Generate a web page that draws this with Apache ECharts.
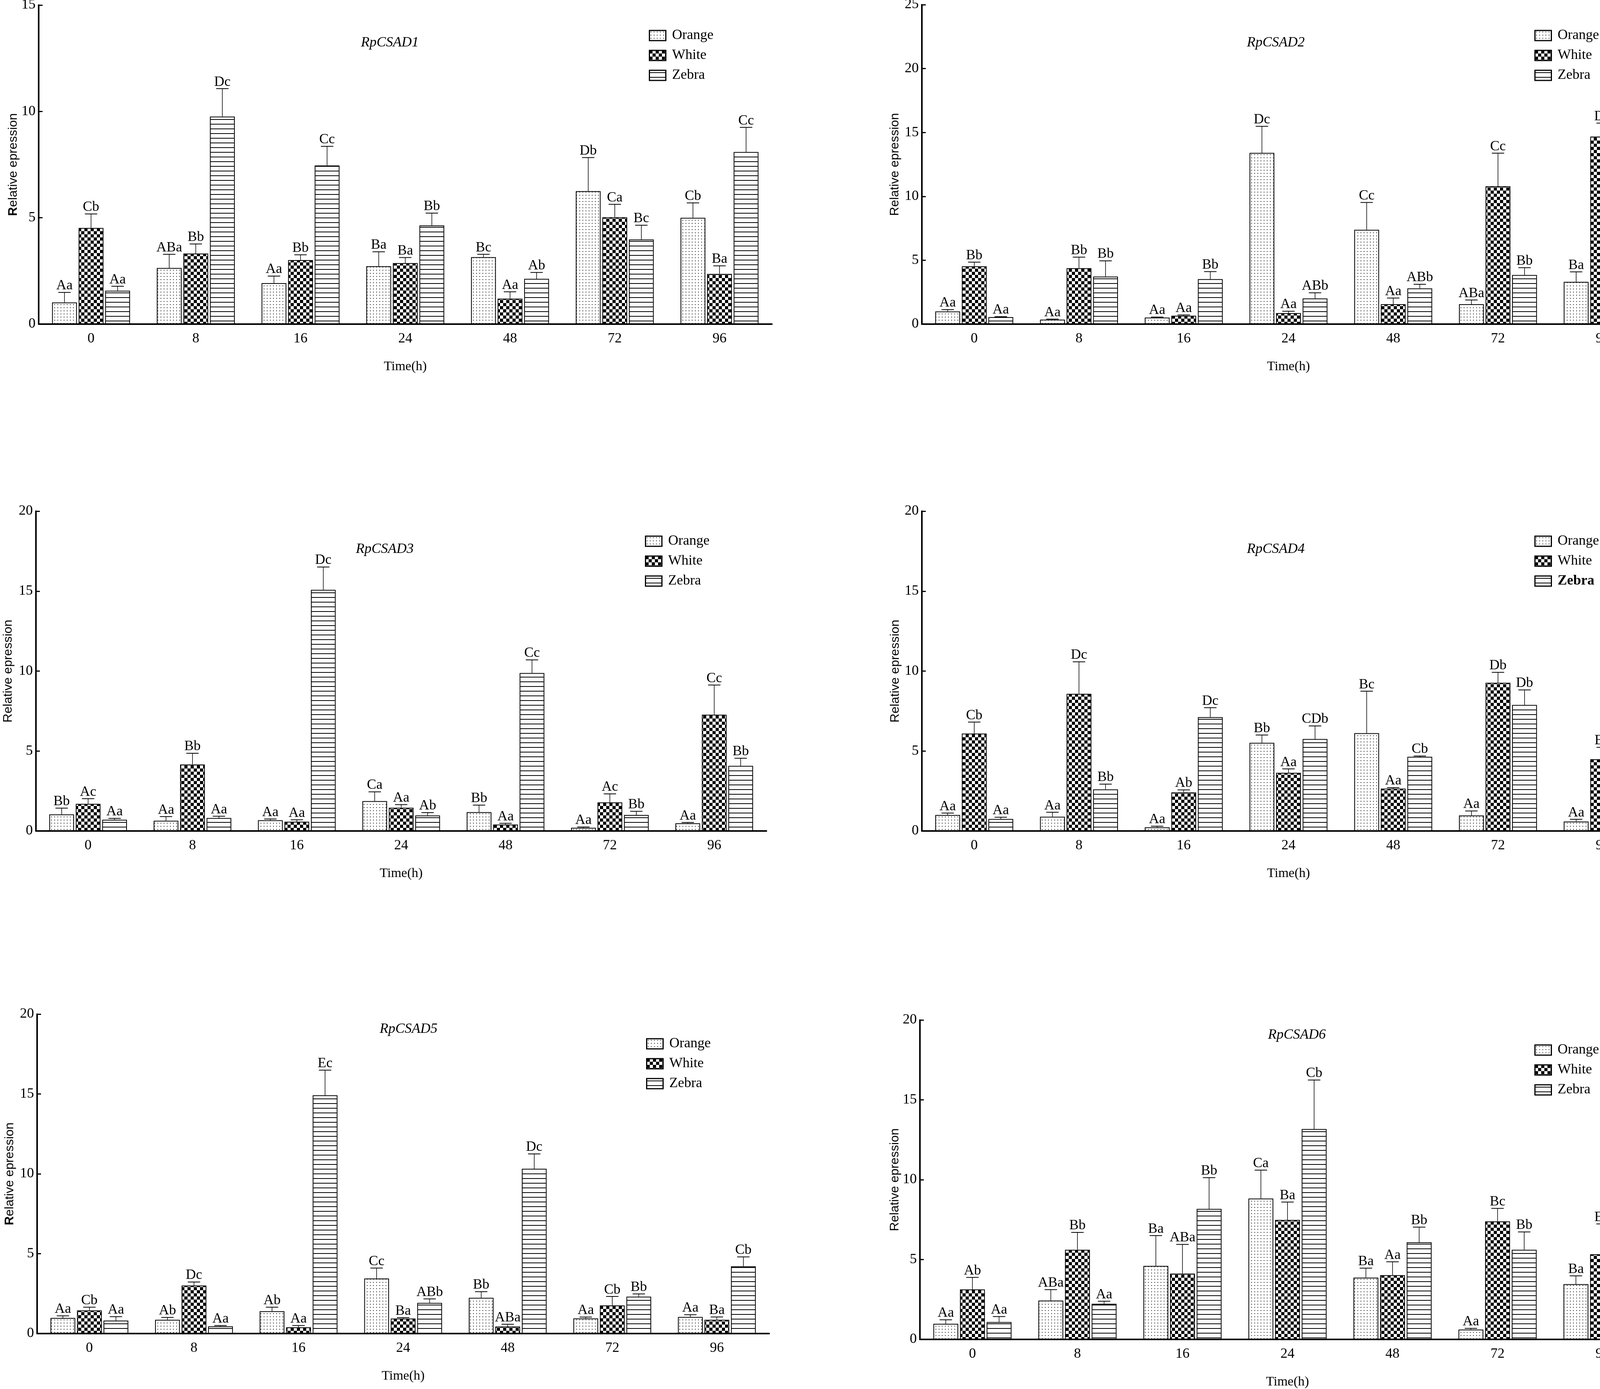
<!DOCTYPE html>
<html><head><meta charset="utf-8">
<script src="https://cdn.jsdelivr.net/npm/echarts@6/dist/echarts.min.js"></script>
<style>html,body{margin:0;padding:0;background:#fff}#c{width:4238px;height:3557px}</style>
</head><body><div id="c"></div>
<script>
const categories = ['0','8','16','24','48','72','96'];
const seriesNames = ['Orange','White','Zebra'];
const genes = ['RpCSAD1','RpCSAD2','RpCSAD3','RpCSAD4','RpCSAD5','RpCSAD6'];
const yMax = [15, 25, 20, 20, 20, 20];
const yInterval = 5;

// Panel 1 RpCSAD1
const orange1 = [1.02, 2.64, 1.93, 2.72, 3.15, 6.25, 5.00];
const orange1Err = [1.49, 3.28, 2.26, 3.40, 3.28, 7.83, 5.70];
const white1 = [4.52, 3.32, 3.01, 2.87, 1.20, 5.02, 2.36];
const white1Err = [5.18, 3.77, 3.26, 3.13, 1.52, 5.63, 2.74];
const zebra1 = [1.57, 9.76, 7.46, 4.64, 2.13, 3.98, 8.09];
const zebra1Err = [1.78, 11.07, 8.36, 5.22, 2.43, 4.65, 9.25];
const orange1Lbl = ['Aa','ABa','Aa','Ba','Bc','Db','Cb'];
const white1Lbl = ['Cb','Bb','Bb','Ba','Aa','Ca','Ba'];
const zebra1Lbl = ['Aa','Dc','Cc','Bb','Ab','Bc','Cc'];

// Panel 2 RpCSAD2
const orange2 = [0.99, 0.35, 0.51, 13.40, 7.38, 1.56, 3.31];
const orange2Err = [1.13, 0.39, 0.55, 15.48, 9.52, 1.89, 4.09];
const white2 = [4.52, 4.38, 0.66, 0.86, 1.56, 10.79, 14.68];
const white2Err = [4.85, 5.24, 0.72, 1.01, 2.04, 13.38, 15.73];
const zebra2 = [0.55, 3.72, 3.52, 2.01, 2.80, 3.84, 16.24];
const zebra2Err = [0.58, 4.95, 4.11, 2.45, 3.12, 4.42, 20.23];
const orange2Lbl = ['Aa','Aa','Aa','Dc','Cc','ABa','Ba'];
const white2Lbl = ['Bb','Bb','Aa','Aa','Aa','Cc','Db'];
const zebra2Lbl = ['Aa','Bb','Bb','ABb','ABb','Bb','Cb'];

// Panel 3 RpCSAD3
const orange3 = [1.04, 0.64, 0.67, 1.87, 1.18, 0.20, 0.48];
const orange3Err = [1.43, 0.90, 0.75, 2.45, 1.62, 0.25, 0.53];
const white3 = [1.70, 4.16, 0.58, 1.45, 0.40, 1.79, 7.27];
const white3Err = [2.02, 4.86, 0.70, 1.65, 0.48, 2.32, 9.13];
const zebra3 = [0.70, 0.81, 15.08, 0.97, 9.88, 1.00, 4.07];
const zebra3Err = [0.79, 0.92, 16.51, 1.15, 10.70, 1.23, 4.55];
const orange3Lbl = ['Bb','Aa','Aa','Ca','Bb','Aa','Aa'];
const white3Lbl = ['Ac','Bb','Aa','Aa','Aa','Ac','Cc'];
const zebra3Lbl = ['Aa','Aa','Dc','Ab','Cc','Bb','Bb'];

// Panel 4 RpCSAD4
const orange4 = [1.00, 0.89, 0.23, 5.51, 6.12, 0.97, 0.59];
const orange4Err = [1.12, 1.17, 0.30, 6.00, 8.74, 1.25, 0.73];
const white4 = [6.09, 8.58, 2.41, 3.64, 2.65, 9.27, 4.49];
const white4Err = [6.81, 10.58, 2.57, 3.88, 2.71, 9.92, 5.23];
const zebra4 = [0.75, 2.60, 7.12, 5.75, 4.64, 7.88, 15.08];
const zebra4Err = [0.86, 2.93, 7.71, 6.57, 4.69, 8.82, 17.34];
const orange4Lbl = ['Aa','Aa','Aa','Bb','Bc','Aa','Aa'];
const white4Lbl = ['Cb','Dc','Ab','Aa','Aa','Db','Bb'];
const zebra4Lbl = ['Aa','Bb','Dc','CDb','Cb','Db','Ec'];

// Panel 5 RpCSAD5
const orange5 = [0.98, 0.86, 1.40, 3.45, 2.24, 0.95, 1.04];
const orange5Err = [1.11, 1.01, 1.65, 4.10, 2.62, 1.03, 1.18];
const white5 = [1.45, 3.01, 0.39, 0.94, 0.44, 1.76, 0.86];
const white5Err = [1.65, 3.23, 0.50, 1.00, 0.58, 2.32, 1.04];
const zebra5 = [0.81, 0.45, 14.92, 1.92, 10.32, 2.31, 4.21];
const zebra5Err = [1.06, 0.50, 16.49, 2.17, 11.25, 2.48, 4.80];
const orange5Lbl = ['Aa','Ab','Ab','Cc','Bb','Aa','Aa'];
const white5Lbl = ['Cb','Dc','Aa','Ba','ABa','Cb','Ba'];
const zebra5Lbl = ['Aa','Aa','Ec','ABb','Dc','Bb','Cb'];

// Panel 6 RpCSAD6
const orange6 = [0.98, 2.43, 4.60, 8.82, 3.87, 0.62, 3.46];
const orange6Err = [1.23, 3.12, 6.50, 10.60, 4.46, 0.69, 3.98];
const white6 = [3.13, 5.61, 4.12, 7.48, 4.02, 7.39, 5.33];
const white6Err = [3.88, 6.70, 5.95, 8.60, 4.86, 8.20, 7.23];
const zebra6 = [1.09, 2.23, 8.17, 13.17, 6.08, 5.61, 5.38];
const zebra6Err = [1.43, 2.39, 10.13, 16.24, 7.03, 6.73, 7.73];
const orange6Lbl = ['Aa','ABa','Ba','Ca','Ba','Aa','Ba'];
const white6Lbl = ['Ab','Bb','ABa','Ba','Aa','Bc','Bb'];
const zebra6Lbl = ['Aa','Aa','Bb','Cb','Bb','Bb','Bb'];

const panelData = [
  {vals:[orange1,white1,zebra1], errs:[orange1Err,white1Err,zebra1Err], lbls:[orange1Lbl,white1Lbl,zebra1Lbl]},
  {vals:[orange2,white2,zebra2], errs:[orange2Err,white2Err,zebra2Err], lbls:[orange2Lbl,white2Lbl,zebra2Lbl]},
  {vals:[orange3,white3,zebra3], errs:[orange3Err,white3Err,zebra3Err], lbls:[orange3Lbl,white3Lbl,zebra3Lbl]},
  {vals:[orange4,white4,zebra4], errs:[orange4Err,white4Err,zebra4Err], lbls:[orange4Lbl,white4Lbl,zebra4Lbl]},
  {vals:[orange5,white5,zebra5], errs:[orange5Err,white5Err,zebra5Err], lbls:[orange5Lbl,white5Lbl,zebra5Lbl]},
  {vals:[orange6,white6,zebra6], errs:[orange6Err,white6Err,zebra6Err], lbls:[orange6Lbl,white6Lbl,zebra6Lbl]}
];

// layout (pixels)
const layout = [
  {left:99,  top:13,   width:1877, height:817, nameGap:49, boldR:true,  title:[993,87],   legend:[1656,68]},
  {left:2360,top:12,   width:1877, height:818, nameGap:53, boldR:false, title:[3261,87],  legend:[3923,68]},
  {left:92,  top:1309, width:1870, height:819, nameGap:55, boldR:false, title:[980,1384], legend:[1646,1363]},
  {left:2360,top:1309, width:1877, height:819, nameGap:52, boldR:false, title:[3261,1384],legend:[3923,1363]},
  {left:95,  top:2597, width:1874, height:818, nameGap:54, boldR:true,  title:[1041,2613],legend:[1649,2650]},
  {left:2355,top:2612, width:1882, height:818, nameGap:47, boldR:false, title:[3315,2628],legend:[3923,2666]}
];

const SERIF = 'Liberation Serif, Times New Roman, serif';
const SANS = 'Liberation Sans, Arial, sans-serif';
const BAR_W = 0.237, BAR_GAP = 0.07;

function makePattern(kind){
  const c = document.createElement('canvas');
  const ctx = c.getContext('2d');
  if (kind === 'dots') {
    c.width = 8; c.height = 8;
    ctx.fillStyle = '#fff'; ctx.fillRect(0,0,8,8);
    ctx.fillStyle = '#222'; ctx.fillRect(3,3,2,2);
  } else if (kind === 'checker') {
    c.width = 16; c.height = 16;
    ctx.fillStyle = '#fff'; ctx.fillRect(0,0,16,16);
    ctx.fillStyle = '#000'; ctx.fillRect(0,0,8,8); ctx.fillRect(8,8,8,8);
  } else {
    c.width = 4; c.height = 12;
    ctx.fillStyle = '#fff'; ctx.fillRect(0,0,4,12);
    ctx.fillStyle = '#000'; ctx.fillRect(0,5,4,2);
  }
  return {image: c, repeat: 'repeat'};
}
const patterns = [makePattern('dots'), makePattern('checker'), makePattern('stripes')];

function errRender(k, labels, boldSet){
  return function(params, api){
    const i = api.value(0), m = api.value(1), t = api.value(2);
    const band = api.size([1,0])[0];
    const bw = band * BAR_W;
    const off = (k - 1) * bw * (1 + BAR_GAP);
    const pm = api.coord([i, m]);
    const pt = api.coord([i, t]);
    const x = pm[0] + off;
    const half = bw / 4;
    const bold = boldSet && boldSet.indexOf(params.dataIndex) >= 0;
    return {type:'group', children:[
      {type:'line', shape:{x1:x, y1:pm[1], x2:x, y2:pt[1]}, style:{stroke:'#000', lineWidth:1.5}},
      {type:'line', shape:{x1:x-half, y1:pt[1], x2:x+half, y2:pt[1]}, style:{stroke:'#000', lineWidth:2}},
      {type:'text', x:x, y:pt[1]+1, style:{text:labels[params.dataIndex], fontFamily:SERIF, fontSize:36,
        fontWeight: bold ? 'bold' : 'normal', fill:'#000', align:'center', verticalAlign:'bottom'}}
    ]};
  };
}

const grid = [], xAxis = [], yAxis = [], series = [], title = [], legend = [];
layout.forEach((L, p) => {
  grid.push({left:L.left, top:L.top, width:L.width, height:L.height, outerBoundsMode:'none', containLabel:false});
  xAxis.push({type:'category', gridIndex:p, data:categories,
    name:'Time(h)', nameLocation:'middle', nameGap:92,
    nameTextStyle:{fontFamily:SERIF, fontSize:34, color:'#000'},
    axisLine:{show:true, onZero:true, lineStyle:{color:'#000', width:4}},
    axisTick:{show:false},
    axisLabel:{fontFamily:SERIF, fontSize:36, color:'#000', margin:20},
    splitLine:{show:false}});
  yAxis.push({type:'value', gridIndex:p, min:0, max:yMax[p], interval:yInterval,
    name: L.boldR ? '{b|R}elative epression' : 'Relative epression',
    nameLocation:'middle', nameRotate:90, nameGap:L.nameGap,
    nameTextStyle:{fontFamily:SANS, fontSize:32, color:'#000',
      rich:{b:{fontFamily:SANS, fontSize:32, fontWeight:'bold', color:'#000'}}},
    axisLine:{show:true, lineStyle:{color:'#000', width:4}},
    axisTick:{show:true, inside:true, length:10, lineStyle:{color:'#000', width:3}},
    axisLabel:{fontFamily:SERIF, fontSize:36, color:'#000', margin:8},
    splitLine:{show:false}});
  const D = panelData[p];
  for (let k = 0; k < 3; k++) {
    series.push({type:'bar', name:seriesNames[k], xAxisIndex:p, yAxisIndex:p,
      data:D.vals[k], barWidth:(BAR_W*100)+'%', barGap:(BAR_GAP*100)+'%',
      itemStyle:{color:patterns[k], borderColor:'#000', borderWidth:2},
      emphasis:{disabled:true}, animation:false});
  }
  for (let k = 0; k < 3; k++) {
    const boldSet = (p === 3 && k === 2) ? [6] : null;
    series.push({type:'custom', xAxisIndex:p, yAxisIndex:p, clip:false, silent:true, animation:false, z:5,
      data: D.vals[k].map((v, i) => [i, v, D.errs[k][i]]),
      encode:{x:0, y:[1,2]},
      renderItem: errRender(k, D.lbls[k], boldSet)});
  }
  title.push({text:genes[p], left:L.title[0], top:L.title[1], textAlign:'center',
    textStyle:{fontFamily:SERIF, fontStyle:'italic', fontWeight:'normal', fontSize:36, color:'#000'}});
  legend.push({orient:'vertical', left:L.legend[0], top:L.legend[1], icon:'rect',
    itemWidth:42, itemHeight:26, itemGap:15, selectedMode:false,
    data: seriesNames.map(n => (p === 3 && n === 'Zebra') ? {name:n, textStyle:{fontWeight:'bold'}} : {name:n}),
    itemStyle:{borderColor:'#000', borderWidth:3},
    textStyle:{fontFamily:SERIF, fontSize:36, color:'#000', padding:[0,0,0,11]}});
});

const chart = echarts.init(document.getElementById('c'), null, {renderer:'canvas'});
chart.setOption({backgroundColor:'#fff', animation:false, grid, xAxis, yAxis, series, title, legend});
</script></body></html>
